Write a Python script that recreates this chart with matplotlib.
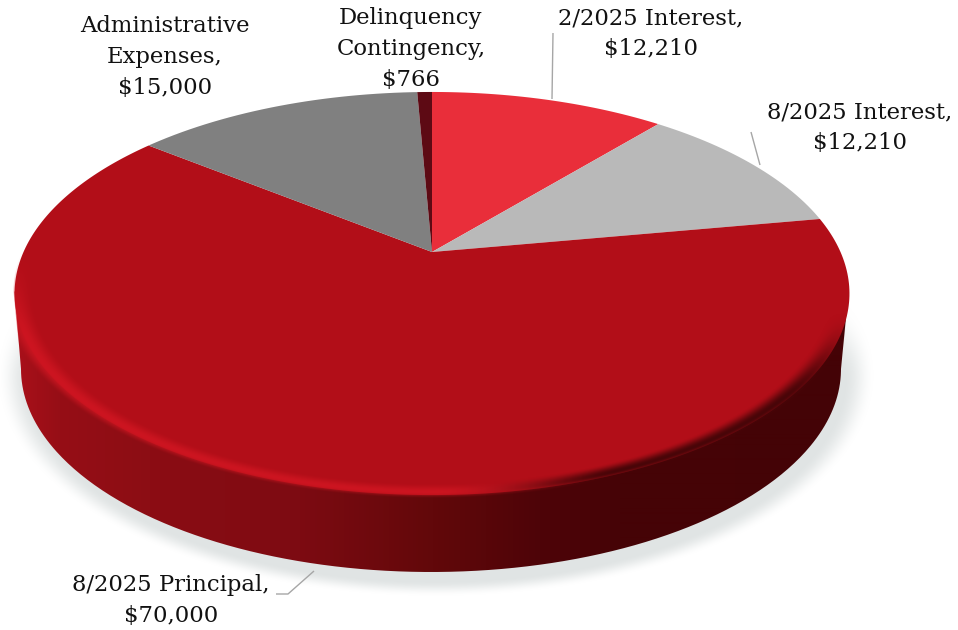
import numpy as np
import matplotlib
matplotlib.use("Agg")
import matplotlib.pyplot as plt
from matplotlib.path import Path
from matplotlib.patches import PathPatch
from matplotlib.transforms import Transform, Affine2D

categories = ["2/2025 Interest", "8/2025 Interest", "8/2025 Principal",
              "Administrative\nExpenses", "Delinquency\nContingency"]
amounts = [12210, 12210, 70000, 15000, 766]
colors = ["#e92e3a", "#b9b9b9", "#b20e18", "#808080", "#5d0a14"]
label_pos = [(651, 34), (860, 128), (171, 600.5), (165, 57), (411, 49)]

W, H = 958, 630
APEX_X, APEX_Y = 432, 252
A, B, K = 408.5, 193.0, 0.206
TOP_C, TOP_RX, TOP_RY = (431.5, 291.5), 418.0, 201.5
BOT_C, BOT_RX, BOT_RY = (431.0, 369.0), 410.0, 203.0


class TiltedDisc(Transform):
    """Perspective projection of the unit disc onto the tilted pie face."""
    input_dims = 2
    output_dims = 2
    is_affine = False
    has_inverse = False

    def transform_non_affine(self, values):
        values = np.asarray(values, float)
        w = 1 + K * values[:, 1]
        return np.column_stack([APEX_X + A * values[:, 0] / w,
                                APEX_Y - B * values[:, 1] / w])

    def transform_path_non_affine(self, path):
        polys = Affine2D().scale(2000).transform_path(path).to_polygons(closed_only=False)
        verts = np.vstack(polys) / 2000
        return Path(self.transform_non_affine(verts))


fig = plt.figure(figsize=(W / 100, H / 100), dpi=100, facecolor="white")
ax = fig.add_axes([0, 0, 1, 1])

wedges, _ = ax.pie(amounts, colors=colors, startangle=90, counterclock=False, radius=1)
disc = TiltedDisc() + ax.transData
for w in wedges:
    w.set_transform(disc)
    w.set_zorder(5)
    w.set_linewidth(0)

xx, yy = np.meshgrid(np.arange(W) + 0.5, np.arange(H) + 0.5)


def smooth(a, b, v):
    t = np.clip((v - a) / (b - a), 0, 1)
    return t * t * (3 - 2 * t)


# soft floor shadow
d = np.hypot((xx - 436) / 412, (yy - 375) / 208)
shadow = np.zeros((H, W, 4))
shadow[..., :3] = np.array([224, 228, 228]) / 255
shadow[..., 3] = (1 - smooth(0.99, 1.065, d)) * smooth(290, 380, yy)
ax.imshow(shadow, extent=(0, W, H, 0), aspect="auto", zorder=1, interpolation="bilinear")

# side wall with horizontal gradient
stops_x = [15, 60, 150, 300, 433, 540, 620, 850]
stops_r = [170, 150, 140, 125, 98, 78, 70, 68]
stops_g = [16, 14, 13, 11, 8, 4, 3, 3]
stops_b = [26, 22, 20, 18, 10, 8, 6, 6]
side = np.ones((2, W, 3))
xs = np.arange(W) + 0.5
side[:, :, 0] = np.interp(xs, stops_x, stops_r) / 255
side[:, :, 1] = np.interp(xs, stops_x, stops_g) / 255
side[:, :, 2] = np.interp(xs, stops_x, stops_b) / 255
im = ax.imshow(side, extent=(0, W, H, 0), aspect="auto", zorder=3, interpolation="bilinear")
t = np.linspace(np.pi, 0, 300)
lower = np.column_stack([BOT_C[0] + BOT_RX * np.cos(t), BOT_C[1] + BOT_RY * np.sin(t)])
outline = np.vstack([lower,
                     [TOP_C[0] + TOP_RX - 1, TOP_C[1]],
                     [TOP_C[0] - TOP_RX + 1, TOP_C[1]],
                     lower[:1]])
clip = PathPatch(Path(outline), transform=ax.transData, fc="none", ec="none")
ax.add_patch(clip)
im.set_clip_path(clip)

# bevelled rim of the top face
d = np.hypot((xx - TOP_C[0]) / TOP_RX, (yy - TOP_C[1]) / TOP_RY)
rim = np.zeros((H, W, 4))
mix = smooth(430, 620, xx)
for i, (bright, dark) in enumerate(zip((216, 24, 36), (72, 5, 8))):
    rim[..., i] = (bright * (1 - mix) + dark * mix) / 255
rise = smooth(0.950, 0.995, d)
fall = 1 - smooth(0.995, 1.028, d)
fade = smooth(250, 340, yy) * (1 - mix) + smooth(310, 400, yy) * mix
rim[..., 3] = rise * fall * fade * (0.7 + 0.3 * mix)
rim_im = ax.imshow(rim, extent=(0, W, H, 0), aspect="auto", zorder=6, interpolation="bilinear")
t2 = np.linspace(0, np.pi, 300)
upper = np.column_stack([TOP_C[0] + TOP_RX * np.cos(t2), TOP_C[1] - TOP_RY * np.sin(t2)])
rim_clip = PathPatch(Path(np.vstack([lower, upper, lower[:1]])), transform=ax.transData,
                     fc="none", ec="none")
ax.add_patch(rim_clip)
rim_im.set_clip_path(rim_clip)

# leader lines
for xl, yl in [((553, 552), (33, 99)), ((751, 760), (132, 165)),
               ((276, 288, 314), (594, 594, 571))]:
    ax.plot(xl, yl, color="#a6a6a6", lw=1.0, zorder=7, solid_capstyle="butt")

for cat, val, (x, y) in zip(categories, amounts, label_pos):
    ax.text(x, y, f"{cat},\n${val:,}", ha="center", va="center", fontsize=16.4,
            family="DejaVu Serif", color="#111111", linespacing=1.52, zorder=8)

ax.set_xlim(0, W)
ax.set_ylim(H, 0)
ax.set_aspect("auto")
ax.axis("off")
fig.savefig("out.png", dpi=100)
